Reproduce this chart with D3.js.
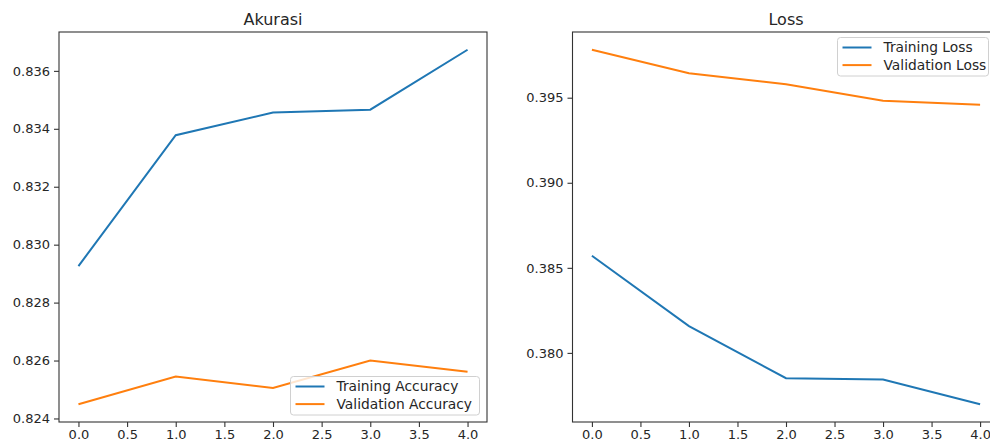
<!DOCTYPE html>
<html>
<head>
<meta charset="utf-8">
<script src="https://cdn.jsdelivr.net/npm/d3@7"></script>
<style>
  body { margin: 0; background: #fff; }
  svg text { font-family: "DejaVu Sans", sans-serif; fill: #262626; }
</style>
</head>
<body>
<div id="chart"></div>
<script>
//////////////////////////////////////////////////////////////////////////////
// Data

var epochs     = [0, 1, 2, 3, 4];
var trainAcc   = [0.82926, 0.83378, 0.83456, 0.83466, 0.83673];
var valAcc     = [0.82449, 0.82545, 0.82505, 0.82600, 0.82561];
var trainLoss  = [0.38571, 0.38157, 0.37851, 0.37843, 0.37698];
var valLoss    = [0.39782, 0.39644, 0.39579, 0.39482, 0.39459];
var xTicks     = [0, 0.5, 1, 1.5, 2, 2.5, 3, 3.5, 4];
var accTicks   = [0.824, 0.826, 0.828, 0.830, 0.832, 0.834, 0.836];
var lossTicks  = [0.380, 0.385, 0.390, 0.395];

var blue = "#1f77b4", orange = "#ff7f0e";

var svg = d3.select("#chart").append("svg")
    .attr("width", 990)
    .attr("height", 441);

// matplotlib style 5% margins
function padded(values) {
    var ext = d3.extent(values);
    var m = (ext[1] - ext[0]) * 0.05;
    return [ext[0] - m, ext[1] + m];
}

function panel(opts) {
    var x = d3.scaleLinear().domain(padded(epochs)).range([opts.left, opts.right]);
    var y = d3.scaleLinear().domain(padded(opts.a.concat(opts.b))).range([opts.bottom, opts.top]);

    var g = svg.append("g");

    var xAxis = g.append("g")
        .attr("transform", "translate(0," + opts.bottom + ")")
        .call(d3.axisBottom(x).tickValues(xTicks).tickFormat(d3.format(".1f")).tickSize(5).tickPadding(3));
    var yAxis = g.append("g")
        .attr("transform", "translate(" + opts.left + ",0)")
        .call(d3.axisLeft(y).tickValues(opts.yTicks).tickFormat(d3.format(".3f")).tickSize(5).tickPadding(4));

    [xAxis, yAxis].forEach(function(a) {
        a.select(".domain").remove();
        a.selectAll("line").attr("stroke", "#333").attr("stroke-width", 1.1);
        a.selectAll("text").attr("font-size", 13).attr("fill", "#262626");
    });

    var line = d3.line()
        .x(function(d, i) { return x(epochs[i]); })
        .y(function(d) { return y(d); });

    g.append("path").datum(opts.a)
        .attr("d", line).attr("fill", "none")
        .attr("stroke", blue).attr("stroke-width", 2);
    g.append("path").datum(opts.b)
        .attr("d", line).attr("fill", "none")
        .attr("stroke", orange).attr("stroke-width", 2);

    g.append("rect")
        .attr("x", opts.left).attr("y", opts.top)
        .attr("width", opts.right - opts.left)
        .attr("height", opts.bottom - opts.top)
        .attr("fill", "none").attr("stroke", "#333").attr("stroke-width", 1.1);

    g.append("text")
        .attr("x", (opts.left + opts.right) / 2)
        .attr("y", 25)
        .attr("text-anchor", "middle")
        .attr("font-size", 16)
        .text(opts.title);

    // legend
    var L = opts.legend;
    var lg = g.append("g").attr("transform", "translate(" + L.x + "," + L.y + ")");
    lg.append("rect")
        .attr("width", L.w).attr("height", 38.5)
        .attr("rx", 3)
        .attr("fill", "white").attr("fill-opacity", 0.8)
        .attr("stroke", "#d0d0d0").attr("stroke-width", 1);
    [[opts.names[0], blue], [opts.names[1], orange]].forEach(function(e, i) {
        var cy = 10 + i * 17.6;
        lg.append("line")
            .attr("x1", 5).attr("x2", 34)
            .attr("y1", cy).attr("y2", cy)
            .attr("stroke", e[1]).attr("stroke-width", 2);
        lg.append("text")
            .attr("x", 46).attr("y", cy)
            .attr("dy", "0.36em")
            .attr("font-size", 13.8)
            .text(e[0]);
    });
}

//////////////////////////////////////////////////////////////////////////////
// Akurasi

panel({
    left: 59, right: 487, top: 32, bottom: 422,
    a: trainAcc, b: valAcc, yTicks: accTicks,
    title: "Akurasi",
    names: ["Training Accuracy", "Validation Accuracy"],
    legend: { x: 290.5, y: 376.5, w: 189 }
});

//////////////////////////////////////////////////////////////////////////////
// Loss

panel({
    left: 572.5, right: 999.5, top: 32, bottom: 422,
    a: trainLoss, b: valLoss, yTicks: lossTicks,
    title: "Loss",
    names: ["Training Loss", "Validation Loss"],
    legend: { x: 837.5, y: 37.5, w: 151 }
});
</script>
</body>
</html>
